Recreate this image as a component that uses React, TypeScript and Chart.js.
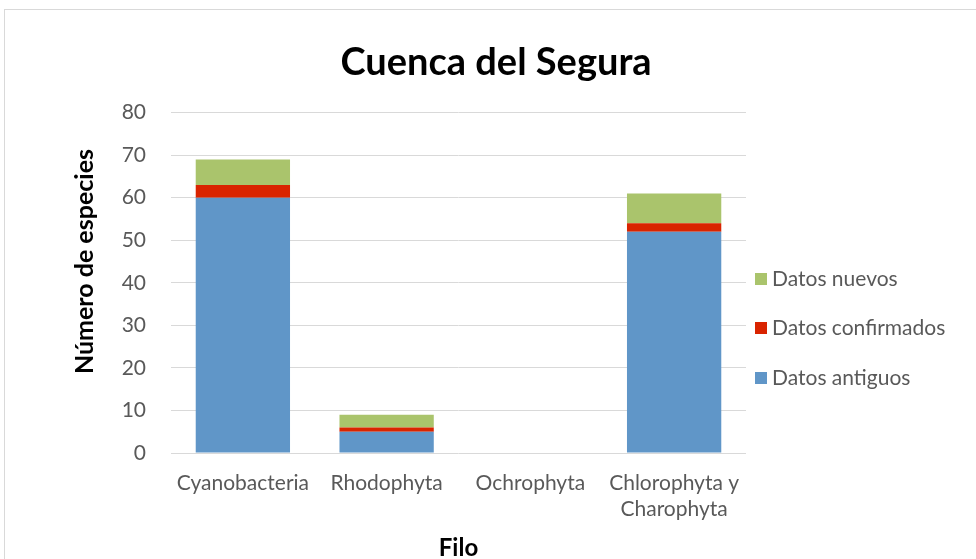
import React, { useEffect, useRef } from "react";
import { Chart, registerables } from "chart.js";

Chart.register(...registerables);

const categories: (string | string[])[] = ["Cyanobacteria", "Rhodophyta", "Ochrophyta", ["Chlorophyta y", "Charophyta"]];
const datosAntiguos = [60, 5, 0, 52];
const datosConfirmados = [3, 1, 0, 2];
const datosNuevos = [6, 3, 0, 7];
const yTicks = [0, 10, 20, 30, 40, 50, 60, 70, 80];

const FONT = "Lato, Carlito, 'Open Sans', sans-serif";
const TEXT = "#595959";

const legendPlugin = {
  id: "customLegend",
  afterDraw(chart: any) {
    const ctx = chart.ctx;
    const ds = chart.data.datasets;
    const order = [2, 1, 0];
    const ys = [279, 328, 378];
    ctx.save();
    ctx.font = `21px ${FONT}`;
    ctx.textBaseline = "middle";
    ctx.textAlign = "left";
    order.forEach((idx, i) => {
      ctx.fillStyle = ds[idx].backgroundColor;
      ctx.fillRect(755, ys[i] - 6, 12, 12);
      ctx.fillStyle = TEXT;
      ctx.fillText(ds[idx].label, 772, ys[i]);
    });
    ctx.restore();
  },
};

export default function App() {
  const ref = useRef<HTMLCanvasElement>(null);
  useEffect(() => {
    if (!ref.current) return;
    const chart = new Chart(ref.current, {
      type: "bar",
      data: {
        labels: categories,
        datasets: [
          { label: "Datos antiguos", data: datosAntiguos, backgroundColor: "#6096C8" },
          { label: "Datos confirmados", data: datosConfirmados, backgroundColor: "#D92400" },
          { label: "Datos nuevos", data: datosNuevos, backgroundColor: "#AAC46C" },
        ],
      },
      options: {
        responsive: false,
        animation: false,
        layout: { padding: { left: 16, right: 0, top: 10, bottom: 0 } },
        datasets: { bar: { barPercentage: 0.656, categoryPercentage: 1 } },
        plugins: {
          legend: { display: false },
          tooltip: { enabled: false },
          title: {
            display: true,
            text: "Cuenca del Segura",
            color: "#000",
            font: { family: FONT, size: 38, weight: "bold" },
            padding: { top: 30, bottom: 27 },
          },
        },
        scales: {
          x: {
            stacked: true,
            grid: { display: false, drawTicks: false },
            border: { display: false },
            ticks: { color: TEXT, font: { family: FONT, size: 21 }, padding: 18, maxRotation: 0 },
            title: {
              display: true,
              text: "Filo",
              color: "#000",
              font: { family: FONT, size: 24, weight: "bold", lineHeight: 0.9 },
              padding: { top: -2, bottom: 0 },
            },
          },
          y: {
            stacked: true,
            min: 0,
            max: 80,
            afterBuildTicks: (axis: any) => {
              axis.ticks = yTicks.map((v) => ({ value: v }));
            },
            afterFit: (axis: any) => {
              axis.width = 155;
            },
            grid: { color: "#D9D9D9", lineWidth: 1, drawTicks: false },
            border: { display: false },
            ticks: { color: TEXT, font: { family: FONT, size: 21 }, padding: 25 },
            title: {
              display: true,
              text: "       Número de especies",
              color: "#000",
              font: { family: FONT, size: 25, weight: "bold", lineHeight: 1 },
              padding: { top: 56, bottom: 0 },
            },
          },
          yRight: {
            position: "right",
            display: true,
            grid: { display: false, drawTicks: false },
            border: { display: false },
            ticks: { display: false },
            afterFit: (axis: any) => {
              axis.width = 230;
            },
          },
        },
      },
      plugins: [legendPlugin],
    });
    return () => chart.destroy();
  }, []);
  return (
    <div style={{ position: "fixed", left: 0, top: 0, width: 976, height: 559, background: "#fff", overflow: "hidden" }}>
      <div style={{ position: "absolute", left: 4, top: 9, width: 1000, height: 600, border: "1px solid #D9D9D9" }} />
      <canvas ref={ref} width={976} height={559} style={{ position: "absolute", left: 0, top: 0 }} />
    </div>
  );
}
